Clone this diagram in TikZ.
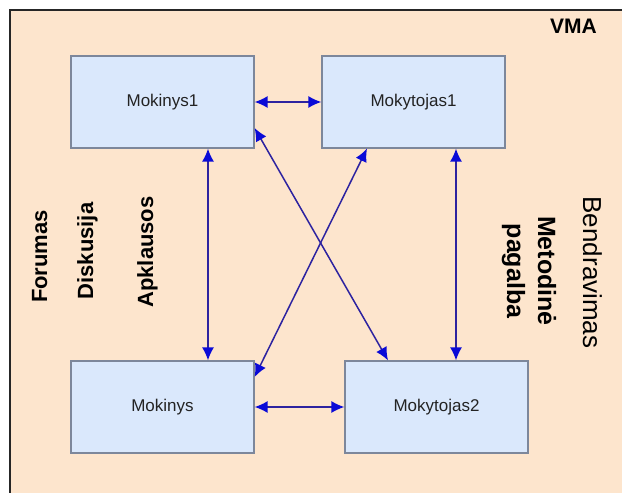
\documentclass[tikz,border=0pt]{standalone}
\usepackage{fontspec}
\setmainfont{Liberation Sans}
\usetikzlibrary{arrows.meta}
\definecolor{bgpeach}{RGB}{253,229,205}
\definecolor{boxfill}{RGB}{218,232,252}
\definecolor{boxline}{RGB}{125,135,155}
\definecolor{arrline}{RGB}{45,35,160}
\definecolor{tipblue}{RGB}{10,10,215}
\definecolor{txt}{RGB}{35,35,35}
\tikzset{
  rolebox/.style={draw=boxline, line width=1.2pt, fill=boxfill, minimum width=183pt, minimum height=92pt, inner sep=0pt, font=\fontsize{17}{20}\selectfont, text=txt},
  link/.style={draw=arrline, line width=1.5pt, {Latex[length=13pt,width=12pt,color=tipblue]}-{Latex[length=13pt,width=12pt,color=tipblue]}},
  sidelabel/.style={font=\fontsize{22}{26}\selectfont\bfseries, text=black, anchor=base, inner sep=0pt},
}
\begin{document}
\begin{tikzpicture}[x=1pt,y=1pt]
\useasboundingbox (0,0) rectangle (622,-493);
\fill[white] (0,0) rectangle (622,-493);
\fill[bgpeach] (10,-10) rectangle (622,-493);
\draw[line width=1.2pt, black!85] (10,-493) -- (10,-10) -- (622,-10);

\node[rolebox] (m1) at (162.5,-102) {Mokinys1};
\node[rolebox] (t1) at (413.5,-102) {Mokytojas1};
\node[rolebox] (m) at (162.5,-407) {Mokinys};
\node[rolebox] (t2) at (436.5,-407) {Mokytojas2};

\draw[link] (m1.east) -- (t1.west);
\draw[link] (m.east) -- (t2.west);
\draw[link] ([xshift=45.5pt]m1.south) -- ([xshift=45.5pt]m.north);
\draw[link] ([xshift=42.5pt]t1.south) -- ([xshift=19.5pt]t2.north);
\draw[link] ([yshift=-26pt]m1.east) -- ([xshift=-48.5pt]t2.north);
\draw[link] ([xshift=-46.5pt]t1.south) -- ([yshift=30pt]m.east);

\node[sidelabel, font=\fontsize{21}{25}\selectfont\bfseries] (vma) at (573.5,-33) {VMA};
\node[sidelabel, rotate=90] (forumas) at (47,-256.5) {Forumas};
\node[sidelabel, rotate=90] (diskusija) at (93,-251) {Diskusija};
\node[sidelabel, rotate=90] (apklausos) at (153,-252) {Apklausos};
\node[sidelabel, rotate=-90, font=\fontsize{25}{29}\selectfont\bfseries] (metodine) at (538,-271) {Metodinė};
\node[sidelabel, rotate=-90, font=\fontsize{25}{29}\selectfont\bfseries] (pagalba) at (507,-271) {pagalba};
\node[sidelabel, rotate=-90, font=\fontsize{26}{30}\selectfont] (bendravimas) at (583,-272.5) {Bendravimas};
\end{tikzpicture}
\end{document}
